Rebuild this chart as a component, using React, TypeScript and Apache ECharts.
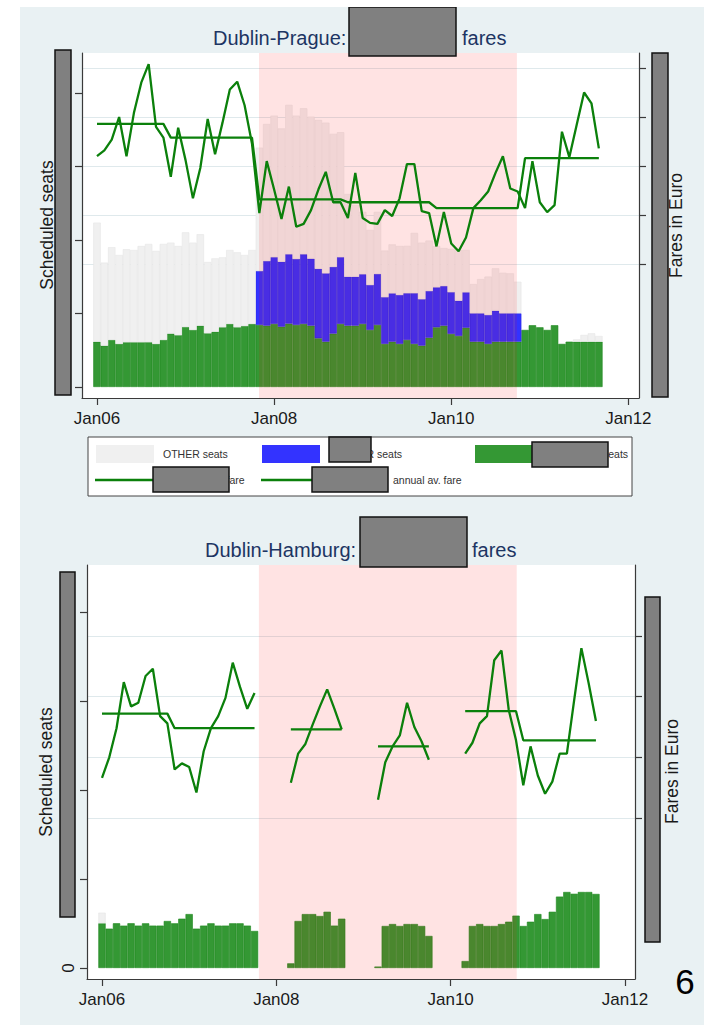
import React, { useEffect, useRef } from 'react';
import * as echarts from 'echarts';

// ---------- data ----------
const X_TICKS = [0, 24, 48, 72];
const X_LABELS = ['Jan06', 'Jan08', 'Jan10', 'Jan12'];
const SEAT_TICKS = [0, 5, 10, 15, 20];
const FARE_TICKS_1 = [50, 100, 150, 200, 250];
const FARE_TICKS_2 = [100, 150, 200, 250];
const PERIOD_1 = [21.95, 56.9];
const PERIOD_2 = [21.6, 57.1];

// Dublin-Prague, thousand seats per month (Jan06 = 0)
const GREEN_1 = [3.08, 2.81, 3.20, 2.93, 3.04, 3.04, 3.04, 3.04, 2.93, 3.20,
  3.63, 3.52, 4.08, 3.88, 4.17, 3.65, 3.76, 4.06, 4.29, 4.06,
  4.15, 4.29, 4.22, 4.17, 4.29, 4.10, 4.31, 4.22, 4.29, 4.17,
  3.31, 3.08, 3.63, 4.29, 4.17, 4.17, 4.29, 3.88, 4.22, 2.93,
  3.08, 2.93, 3.20, 2.93, 2.81, 3.35, 4.06, 4.17, 3.61, 3.47,
  4.03, 3.08, 3.08, 2.93, 3.08, 3.08, 3.08, 3.08, 3.88, 4.20,
  4.06, 3.88, 4.20, 2.93, 3.08, 3.08, 3.08, 3.08, 3.08];
const BLUE_1 = [null, null, null, null, null, null, null, null, null, null,
  null, null, null, null, null, null, null, null, null, null,
  null, null, 3.67, 4.40, 4.54, 4.42, 4.72, 4.49, 4.74, 4.56,
  4.73, 4.65, 4.54, 4.54, 3.33, 3.33, 3.38, 3.06, 3.47, 3.18,
  3.29, 3.33, 3.18, 3.45, 3.16, 3.18, 2.72, 2.70, 2.84, 2.40,
  2.41, 1.93, 1.93, 1.97, 2.11, 1.93, 1.93, 1.93, null, null,
  null, null, null, null, null, null, null, null, null];
const OTHER_1 = [8.10, 5.65, 6.31, 6.05, 6.33, 6.28, 6.55, 6.69, 6.33, 6.53,
  6.19, 6.07, 6.44, 5.94, 6.22, 4.85, 4.99, 4.76, 5.03, 5.10,
  4.83, 5.03, 8.39, 9.32, 9.63, 9.07, 10.16, 9.75, 9.93, 9.66,
  10.12, 10.25, 9.05, 8.50, 5.63, 4.88, 4.24, 3.74, 4.22, 3.17,
  3.33, 3.33, 3.22, 4.10, 3.85, 3.43, 2.81, 2.58, 2.94, 3.45,
  2.88, 1.99, 2.33, 2.61, 2.88, 2.76, 2.72, 2.15, null, null,
  null, null, null, null, null, 0.16, 0.46, 0.57, 0.39];
// Dublin-Prague fares, Euro
const FARE_1 = [160, 166, 177, 200, 160, 204, 235, 254, 190, 179,
  139, 189, 156, 117, 148, 198, 162, 194, 228, 236,
  212, 173, 102, 155, 126, 96, 129, 88, 91, 105,
  126, 144, 113, 113, 97, 143, 97, 92, 91, 105,
  99, 117, 152, 152, 104, 102, 68, 103, 71, 63,
  77, 107, 115, 124, 143, 160, 127, 124, 107, 155,
  113, 103, 110, 185, 159, 192, 225, 214, 168];
const AVG_1 = [193, 193, 193, 193, 193, 193, 193, 193, 193, 193,
  179, 179, 179, 179, 179, 179, 179, 179, 179, 179,
  179, 179, 116, 116, 116, 116, 116, 116, 116, 116,
  116, 116, 116, 116, 113, 113, 113, 113, 113, 113,
  113, 113, 113, 113, 113, 113, 107, 107, 107, 107,
  107, 107, 107, 107, 107, 107, 107, 107, 158, 158,
  158, 158, 158, 158, 158, 158, 158, 158, 158];

// Dublin-Hamburg
const GREEN_2 = [2.51, 2.21, 2.51, 2.38, 2.51, 2.38, 2.51, 2.38, 2.38, 2.64,
  2.51, 2.77, 3.03, 2.21, 2.38, 2.51, 2.38, 2.38, 2.51, 2.51,
  2.38, 2.08, null, null, null, null, 0.26, 2.64, 3.03, 3.03,
  2.92, 3.16, 2.38, 2.77, null, null, null, null, 0.08, 2.36,
  2.47, 2.36, 2.47, 2.47, 2.36, 1.80, null, null, null, null,
  0.39, 2.36, 2.47, 2.36, 2.36, 2.47, 2.60, 2.94, 2.36, 2.60,
  3.03, 2.75, 3.16, 4.01, 4.27, 4.17, 4.27, 4.27, 4.16];
const OTHER_2 = [0.60, null, null, null, null, null, null, null, null, null,
  null, null, null, null, null, null, null, null, null, null,
  null, null, null, null, null, null, null, null, null, null,
  null, null, null, null, null, null, null, null, null, null,
  null, null, null, null, null, null, null, null, null, null,
  null, null, null, null, null, null, null, null, null, null,
  null, null, null, null, null, null, null, null, null];
const FARE_2 = [133, 150, 174, 212, 192, 195, 217, 223, 184, 178,
  140, 145, 142, 121, 155, 174, 184, 199, 228, 208,
  190, 203, null, null, null, null, 129, 153, 161, 177,
  192, 206, 190, 173, null, null, null, null, 115, 146,
  159, 168, 195, 175, 163, 148, null, null, null, null,
  153, 162, 178, 184, 230, 238, 189, 164, 127, 159,
  135, 120, 130, 153, 153, 197, 240, 211, 180];
const AVG_2 = [186, 186, 186, 186, 186, 186, 186, 186, 186, 186,
  174, 174, 174, 174, 174, 174, 174, 174, 174, 174,
  174, 174, null, null, null, null, 173, 173, 173, 173,
  173, 173, 173, 173, null, null, null, null, 159, 159,
  159, 159, 159, 159, 159, 159, null, null, null, null,
  188, 188, 188, 188, 188, 188, 188, 188, 164, 164,
  164, 164, 164, 164, 164, 164, 164, 164, 164];

// ---------- styles ----------
const OX = 20;
const OY = 7;
const FONT = "'Liberation Sans', Arial, sans-serif";
const NAVY = '#1d3563';
const AXIS = '#3a3a3a';
const GRID = '#dfe9ec';
const C_GREEN = '#349834';
const C_GREEN_EDGE = '#1c861c';
const C_BLUE = '#3333ff';
const C_BLUE_EDGE = '#2424e6';
const C_OTHER = '#f0f0f0';
const C_OTHER_EDGE = '#e6e6e6';
const C_LINE = '#0b800b';
const PINK = 'rgba(255,0,0,0.11)';

// line points: [month, value]
const pts = (arr: (number | null)[]) => arr.map((v, i) => [i, v == null ? '-' : v]);
// bar points: [value, month] so that the stack is computed on the value dimension
const bpts = (arr: (number | null)[]) => arr.map((v, i) => [v == null ? '-' : v, i]);

function txt(x: number, y: number, text: string, size: number, color: string, align = 'left', rotation = 0) {
  return {
    type: 'text', x: x - OX, y: y - OY, rotation, silent: true, z: 50,
    style: { text, fontSize: size, fontFamily: FONT, fill: color, align, verticalAlign: 'middle' },
  };
}
function box(x1: number, y1: number, x2: number, y2: number) {
  return {
    type: 'rect', silent: true, z: 100,
    shape: { x: x1 - OX, y: y1 - OY, width: x2 - x1, height: y2 - y1 },
    style: { fill: '#808080', stroke: '#111', lineWidth: 1.5 },
  };
}
function rect(x1: number, y1: number, x2: number, y2: number, fill: string, stroke?: string, z = 45) {
  return {
    type: 'rect', silent: true, z,
    shape: { x: x1 - OX, y: y1 - OY, width: x2 - x1, height: y2 - y1 },
    style: { fill, stroke: stroke || null, lineWidth: 1 },
  };
}
function hline(x1: number, x2: number, y: number) {
  return {
    type: 'line', silent: true, z: 50,
    shape: { x1: x1 - OX, y1: y - OY, x2: x2 - OX, y2: y - OY },
    style: { stroke: C_LINE, lineWidth: 2.3 },
  };
}

function xAxis(grid: number, min: number, max: number) {
  return {
    type: 'value', gridIndex: grid, min, max, position: 'bottom',
    axisLine: { show: true, onZero: false, lineStyle: { color: AXIS, width: 1.2 } },
    axisTick: { show: true, length: 7, customValues: X_TICKS, lineStyle: { color: AXIS, width: 1.2 } },
    axisLabel: {
      show: true, customValues: X_TICKS, fontSize: 17, fontFamily: FONT, color: '#1a1a1a', margin: 12,
      formatter: (v: number) => X_LABELS[X_TICKS.indexOf(v)] ?? '',
    },
    splitLine: { show: false },
  };
}
function yAxis(grid: number, pos: string, min: number, max: number, ticks: number[], split: boolean, label?: any) {
  return {
    type: 'value', gridIndex: grid, position: pos, min, max,
    axisLine: { show: true, onZero: false, lineStyle: { color: AXIS, width: 1.2 } },
    axisTick: { show: true, length: 7, customValues: ticks, lineStyle: { color: AXIS, width: 1.2 } },
    axisLabel: label || { show: false },
    splitLine: { show: split, lineStyle: { color: GRID, width: 1 } },
  };
}

export default function App() {
  const ref = useRef<HTMLDivElement>(null);
  useEffect(() => {
    if (!ref.current) return;
    const chart = echarts.init(ref.current, null, { renderer: 'svg' });
    const barBase = { type: 'bar', silent: true, z: 2, encode: { x: 1, y: 0 } };
    const lineBase = { type: 'line', silent: true, z: 4, symbol: 'none', connectNulls: false, lineStyle: { color: C_LINE, width: 2.3 }, itemStyle: { color: C_LINE } };
    const option: any = {
      animation: false,
      backgroundColor: '#e9f1f3',
      grid: [
        { left: 82 - OX, top: 53 - OY, width: 557, height: 345, show: true, backgroundColor: '#ffffff', borderWidth: 0 },
        { left: 87 - OX, top: 565 - OY, width: 548, height: 414, show: true, backgroundColor: '#ffffff', borderWidth: 0 },
      ],
      xAxis: [xAxis(0, -2.03, 73.44), xAxis(1, -2.065, 73.38)],
      yAxis: [
        yAxis(0, 'left', -0.75, 22.72, SEAT_TICKS, false),
        yAxis(0, 'right', -86.7, 265.3, FARE_TICKS_1, true),
        yAxis(1, 'left', -0.618, 22.64, SEAT_TICKS, false, {
          show: true, customValues: [0], rotate: 90, fontSize: 17, fontFamily: FONT, color: '#1a1a1a', margin: 10,
        }),
        yAxis(1, 'right', -32.7, 308.5, FARE_TICKS_2, true),
      ],
      series: [
        { ...barBase, name: 'green1', xAxisIndex: 0, yAxisIndex: 0, stack: 's1', barWidth: 7.4, data: bpts(GREEN_1),
          itemStyle: { color: C_GREEN, borderColor: C_GREEN_EDGE, borderWidth: 0.6 } },
        { ...barBase, name: 'blue1', xAxisIndex: 0, yAxisIndex: 0, stack: 's1', barWidth: 7.4, data: bpts(BLUE_1),
          itemStyle: { color: C_BLUE, borderColor: C_BLUE_EDGE, borderWidth: 0.6 } },
        { ...barBase, name: 'other1', xAxisIndex: 0, yAxisIndex: 0, stack: 's1', barWidth: 7.4, data: bpts(OTHER_1),
          itemStyle: { color: C_OTHER, borderColor: C_OTHER_EDGE, borderWidth: 0.6 } },
        { ...lineBase, name: 'fare1', xAxisIndex: 0, yAxisIndex: 1, data: pts(FARE_1),
          markArea: { silent: true, z: 3, itemStyle: { color: PINK }, data: [[{ xAxis: PERIOD_1[0] }, { xAxis: PERIOD_1[1] }]] } },
        { ...lineBase, name: 'avg1', xAxisIndex: 0, yAxisIndex: 1, data: pts(AVG_1) },

        { ...barBase, name: 'green2', xAxisIndex: 1, yAxisIndex: 2, stack: 's2', barWidth: 7.26, data: bpts(GREEN_2),
          itemStyle: { color: C_GREEN, borderColor: C_GREEN_EDGE, borderWidth: 0.6 } },
        { ...barBase, name: 'other2', xAxisIndex: 1, yAxisIndex: 2, stack: 's2', barWidth: 7.26, data: bpts(OTHER_2),
          itemStyle: { color: C_OTHER, borderColor: C_OTHER_EDGE, borderWidth: 0.6 } },
        { ...lineBase, name: 'fare2', xAxisIndex: 1, yAxisIndex: 3, data: pts(FARE_2),
          markArea: { silent: true, z: 3, itemStyle: { color: PINK }, data: [[{ xAxis: PERIOD_2[0] }, { xAxis: PERIOD_2[1] }]] } },
        { ...lineBase, name: 'avg2', xAxisIndex: 1, yAxisIndex: 3, data: pts(AVG_2) },
      ],
      graphic: { elements: [
        // chart 1 titles & axis names
        txt(213, 38, 'Dublin-Prague:', 20, NAVY),
        txt(462, 38, 'fares', 20, NAVY),
        box(349, 7, 456, 56),
        txt(46.5, 225, 'Scheduled seats', 17.5, '#1a1a1a', 'center', Math.PI / 2),
        box(55, 50, 71, 395),
        txt(675.5, 225.5, 'Fares in Euro', 17.5, '#1a1a1a', 'center', Math.PI / 2),
        box(652, 53, 668, 397),
        // legend
        rect(88, 437, 632, 496, '#ffffff', '#444', 40),
        rect(96, 445, 154, 463, C_OTHER),
        rect(262, 445, 320, 463, C_BLUE),
        rect(475, 445, 534, 463, C_GREEN),
        txt(163, 454, 'OTHER seats', 10.5, '#333'),
        txt(366.5, 454, 'R seats', 10.5, '#333'),
        txt(603, 454, 'seats', 10.5, '#333'),
        hline(95, 153, 480),
        hline(261, 314, 480),
        txt(226.5, 480, 'fare', 10.5, '#333'),
        txt(393, 480, 'annual av. fare', 10.5, '#333'),
        box(329, 437, 371, 462),
        box(532, 442, 608, 467),
        box(153, 467, 229, 492),
        box(312, 467, 388, 492),
        // chart 2
        txt(205, 550, 'Dublin-Hamburg:', 20, NAVY),
        txt(472, 550, 'fares', 20, NAVY),
        box(360, 517, 467, 567),
        txt(46, 772, 'Scheduled seats', 17.5, '#1a1a1a', 'center', Math.PI / 2),
        box(60, 572, 75, 917),
        txt(672, 771.5, 'Fares in Euro', 17.5, '#1a1a1a', 'center', Math.PI / 2),
        box(645, 597, 660, 942),
        // page number
        txt(685, 981, '6', 35, '#000000', 'center'),
      ] },
    };
    chart.setOption(option);
    return () => chart.dispose();
  }, []);
  return (
    <div style={{ position: 'absolute', left: 0, top: 0, width: 704, height: 1025, background: '#ffffff' }}>
      <div ref={ref} style={{ position: 'absolute', left: OX, top: OY, width: 704 - OX, height: 1025 - OY }} />
    </div>
  );
}
